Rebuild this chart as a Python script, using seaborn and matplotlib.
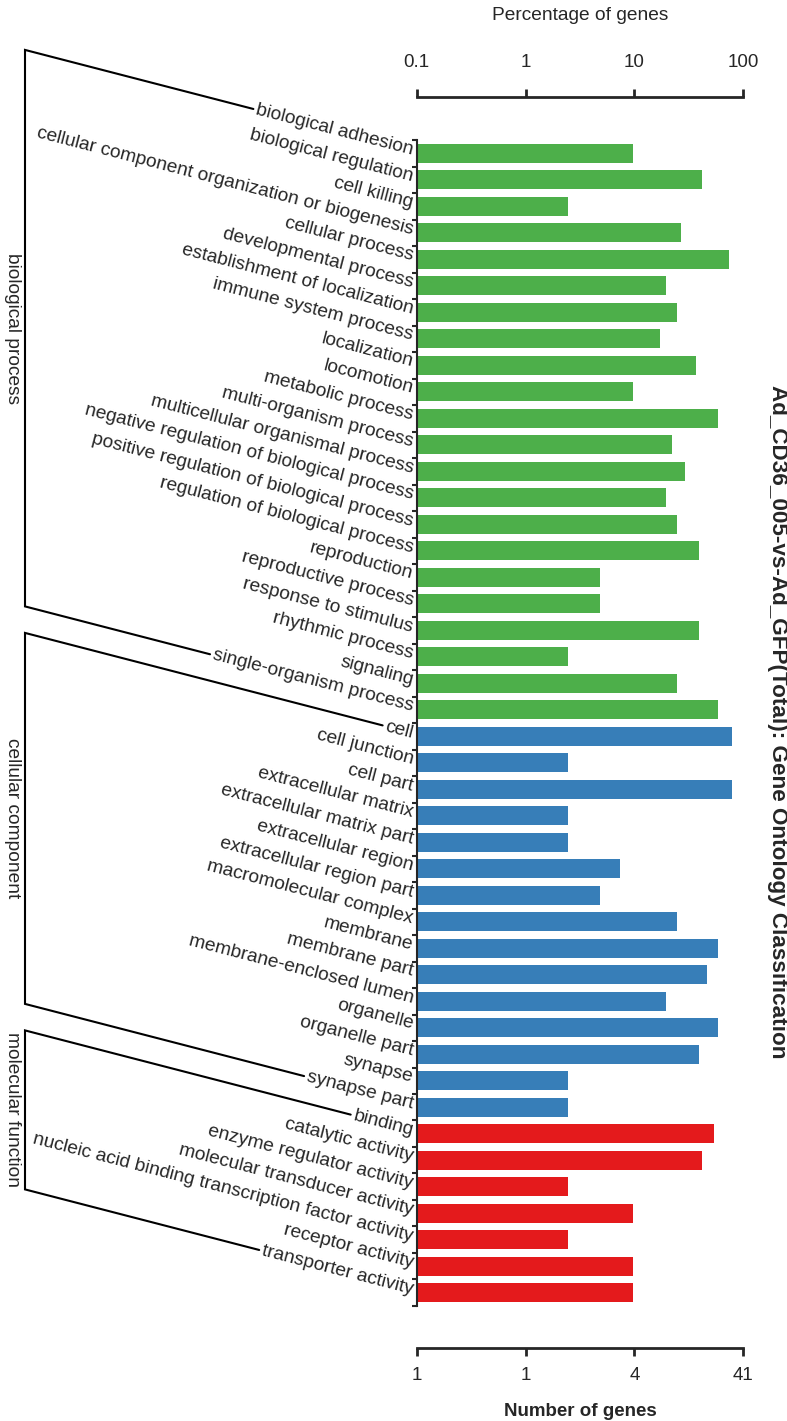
import numpy as np
import pandas as pd
import matplotlib
matplotlib.use("Agg")
import matplotlib.pyplot as plt
import seaborn as sns
from matplotlib.lines import Line2D
from matplotlib.ticker import NullLocator
from matplotlib.transforms import offset_copy

# GO terms and gene counts per category
bp_terms = [
    "biological adhesion", "biological regulation", "cell killing",
    "cellular component organization or biogenesis", "cellular process",
    "developmental process", "establishment of localization",
    "immune system process", "localization", "locomotion",
    "metabolic process", "multi-organism process",
    "multicellular organismal process",
    "negative regulation of biological process",
    "positive regulation of biological process",
    "regulation of biological process", "reproduction",
    "reproductive process", "response to stimulus", "rhythmic process",
    "signaling", "single-organism process",
]
bp_counts = [4, 17, 1, 11, 30, 8, 10, 7, 15, 4, 24, 9, 12, 8, 10, 16, 2, 2, 16, 1, 10, 24]

cc_terms = [
    "cell", "cell junction", "cell part", "extracellular matrix",
    "extracellular matrix part", "extracellular region",
    "extracellular region part", "macromolecular complex", "membrane",
    "membrane part", "membrane-enclosed lumen", "organelle",
    "organelle part", "synapse", "synapse part",
]
cc_counts = [32, 1, 32, 1, 1, 3, 2, 10, 24, 19, 8, 24, 16, 1, 1]

mf_terms = [
    "binding", "catalytic activity", "enzyme regulator activity",
    "molecular transducer activity",
    "nucleic acid binding transcription factor activity",
    "receptor activity", "transporter activity",
]
mf_counts = [22, 17, 1, 4, 1, 4, 4]

groups = ["biological process", "cellular component", "molecular function"]
group_colors = ["#4DAF4A", "#377EB8", "#E41A1C"]
total_genes = 41

pct_ticks = [0.1, 1, 10, 100]
pct_labels = ["0.1", "1", "10", "100"]
count_labels = ["1", "1", "4", "41"]

title = "Ad_CD36_005-vs-Ad_GFP(Total): Gene Ontology Classification"

df = pd.DataFrame({
    "term": bp_terms + cc_terms + mf_terms,
    "count": bp_counts + cc_counts + mf_counts,
    "group": [groups[0]] * len(bp_terms) + [groups[1]] * len(cc_terms) + [groups[2]] * len(mf_terms),
})
df["pct"] = df["count"] / total_genes * 100
n = len(df)

sns.set_style("white")
plt.rcParams["font.family"] = ["Liberation Sans", "DejaVu Sans"]
FS = 13.8

W, H = 787, 1421
fig = plt.figure(figsize=(W / 100, H / 100), dpi=100)
ax = fig.add_axes([416.7 / W, 73 / H, 326.6 / W, 1251 / H])
ax.set_xscale("log")

sns.barplot(data=df, x="pct", y="term", hue="group", palette=dict(zip(groups, group_colors)),
            dodge=False, width=0.7, saturation=1, legend=False, linewidth=0, ax=ax)

ax.set_xlim(0.1, 100)
ax.set_ylim(45.085, -2.123)

# y axis: ticks between bars, labels drawn separately (slanted)
ax.set_yticks(np.arange(-0.5, n, 1))
ax.set_yticklabels([])
ax.set_ylabel("")
ax.tick_params(axis="y", direction="out", length=3.5, width=1.5, left=True)
ax.spines["left"].set_bounds(-0.5, n - 0.5)
ax.spines["left"].set_linewidth(1.5)
ax.spines["right"].set_visible(False)
ax.spines["top"].set_visible(False)
ax.spines["bottom"].set_linewidth(2)

# bottom axis: number of genes
ax.set_xticks(pct_ticks, labels=count_labels)
ax.xaxis.set_minor_locator(NullLocator())
ax.tick_params(axis="x", direction="out", length=6, width=2, labelsize=13.5, pad=8, bottom=True)
ax.set_xlabel("Number of genes", fontsize=13.5, fontweight="bold", labelpad=13)

# top axis: percentage of genes
ax2 = ax.twiny()
ax2.set_xscale("log")
ax2.set_xlim(0.1, 100)
ax2.set_xticks(pct_ticks, labels=pct_labels)
ax2.xaxis.set_minor_locator(NullLocator())
ax2.tick_params(axis="x", direction="out", length=6, width=2, labelsize=13.5, pad=12.5, top=True)
ax2.set_xlabel("Percentage of genes", fontsize=FS, labelpad=25)
for s in ["left", "right", "bottom"]:
    ax2.spines[s].set_visible(False)
ax2.spines["top"].set_linewidth(2)

# slanted term labels
ANG = 14.5
lab_tf = offset_copy(ax.get_yaxis_transform(), fig=fig, x=-3.7, y=3, units="dots")
texts = []
for i, term in enumerate(df["term"]):
    t = ax.text(0, i, term, transform=lab_tf, rotation=-ANG, rotation_mode="anchor",
                ha="right", va="center", fontsize=FS, clip_on=False)
    texts.append(t)

# brackets grouping the terms
fig.canvas.draw()
renderer = fig.canvas.get_renderer()
c, s = np.cos(np.radians(ANG)), np.sin(np.radians(ANG))
x_br = 25


def left_end(i):
    w = renderer.get_text_width_height_descent(texts[i].get_text(), texts[i].get_fontproperties(), ismath=False)[0]
    xa, ya = lab_tf.transform((0, i))
    w += 3
    return xa - w * c, ya + w * s


for g in groups:
    idx = df.index[df["group"] == g]
    i0, i1 = idx[0], idx[-1]
    p0 = left_end(i0)
    p1 = left_end(i1)
    q0 = (x_br, p0[1] + (p0[0] - x_br) * s / c)
    q1 = (x_br, p1[1] + (p1[0] - x_br) * s / c)
    xs = [p0[0], q0[0], q1[0], p1[0]]
    ys = [p0[1], q0[1], q1[1], p1[1]]
    fig.add_artist(Line2D([x / W for x in xs], [y / H for y in ys], transform=fig.transFigure,
                          color="black", lw=1.5, solid_joinstyle="miter"))
    fig.text(12 / W, (q0[1] + q1[1]) / 2 / H, g, rotation=-90, ha="center", va="center", fontsize=FS)

fig.text(777 / W, 1 - 722 / H, title, rotation=-90, ha="center", va="center",
         fontsize=16.2, fontweight="bold")

fig.savefig("out.png", dpi=100)
